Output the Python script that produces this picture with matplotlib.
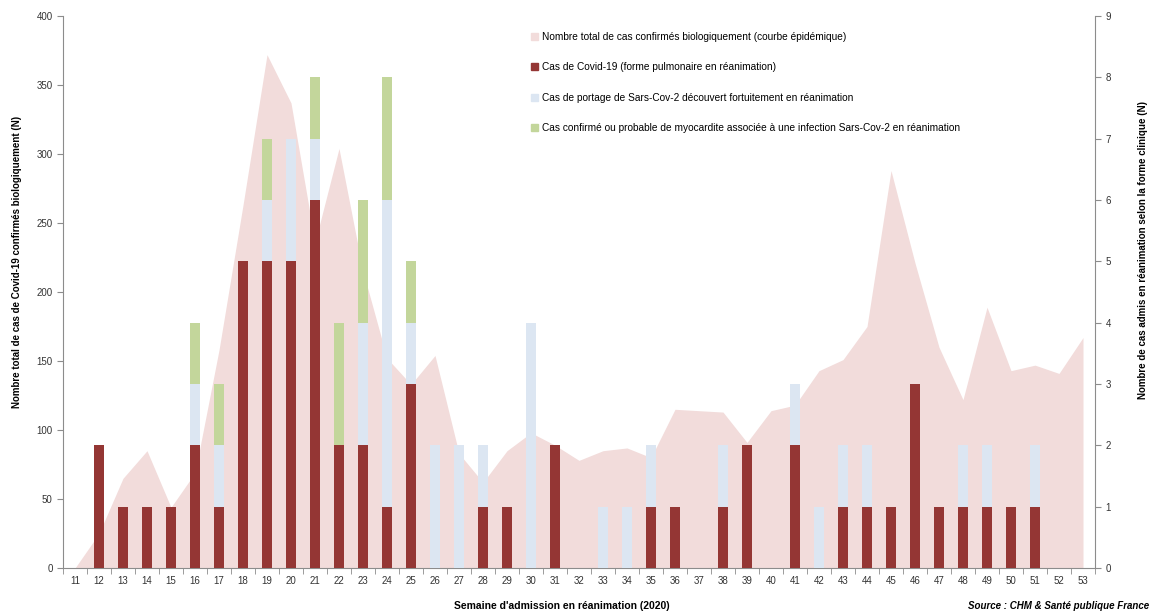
import numpy as np
import matplotlib
matplotlib.use("Agg")
import matplotlib.pyplot as plt
from matplotlib.patches import Patch
from matplotlib.ticker import MultipleLocator

plt.rcParams['font.family'] = ['Liberation Sans', 'DejaVu Sans']

# Data -------------------------------------------------------------------------
weeks = list(range(11, 54))

# total confirmed cases (epidemic curve, left axis)
total_cases = [0, 25, 65, 85, 44, 69, 158, 263, 372, 337,
               236, 304, 215, 152, 133, 154, 83, 62, 85, 98,
               89, 78, 85, 87, 80, 115, 114, 113, 91, 114,
               118, 143, 151, 175, 288, 221, 160, 122, 189, 143,
               147, 141, 167]

# ICU admissions by clinical form (right axis)
covid_pulm = [0, 2, 1, 1, 1, 2, 1, 5, 5, 5,
              6, 2, 2, 1, 3, 0, 0, 1, 1, 0,
              2, 0, 0, 0, 1, 1, 0, 1, 2, 0,
              2, 0, 1, 1, 1, 3, 1, 1, 1, 1,
              1, 0, 0]
portage = [0, 0, 0, 0, 0, 1, 1, 0, 1, 2,
           1, 0, 2, 5, 1, 2, 2, 1, 0, 4,
           0, 0, 1, 1, 1, 0, 0, 1, 0, 0,
           1, 1, 1, 1, 0, 0, 0, 1, 1, 0,
           1, 0, 0]
myocardite = [0, 0, 0, 0, 0, 1, 1, 0, 1, 0,
              1, 2, 2, 2, 1, 0, 0, 0, 0, 0,
              0, 0, 0, 0, 0, 0, 0, 0, 0, 0,
              0, 0, 0, 0, 0, 0, 0, 0, 0, 0,
              0, 0, 0]

labels = ["Nombre total de cas confirmés biologiquement (courbe épidémique)",
          "Cas de Covid-19 (forme pulmonaire en réanimation)",
          "Cas de portage de Sars-Cov-2 découvert fortuitement en réanimation",
          "Cas confirmé ou probable de myocardite associée à une infection Sars-Cov-2 en réanimation"]

c_area = "#F2DCDB"
c_dark = "#943634"
c_light = "#DCE6F2"
c_green = "#C3D69B"
c_axis = "#8C8C8C"

# Figure -----------------------------------------------------------------------
W, H = 1152, 612
fig = plt.figure(figsize=(W / 100, H / 100), dpi=100)
ax = fig.add_axes([63 / W, (H - 568) / H, (1095 - 63) / W, (568 - 16) / H])

x = np.arange(len(weeks))
ax.fill_between(x, total_cases, 0, color=c_area, linewidth=0)
ax.set_xlim(-0.5, len(weeks) - 0.5)
ax.set_ylim(0, 400)
ax.yaxis.set_major_locator(MultipleLocator(50))

ax2 = ax.twinx()
ax2.set_ylim(0, 9)
ax2.yaxis.set_major_locator(MultipleLocator(1))

pulm = np.array(covid_pulm)
port = np.array(portage)
myo = np.array(myocardite)
bw = 0.4
ax2.bar(x, pulm, bw, color=c_dark, linewidth=0)
ax2.bar(x, port, bw, bottom=pulm, color=c_light, linewidth=0)
ax2.bar(x, myo, bw, bottom=pulm + port, color=c_green, linewidth=0)

# axes styling
for a in (ax, ax2):
    a.spines["top"].set_visible(False)
    for s in ("left", "right", "bottom"):
        a.spines[s].set_color(c_axis)
    a.tick_params(axis="y", colors=c_axis, labelcolor="#333333", labelsize=7, length=4, direction="out")
ax2.spines["left"].set_visible(False)
ax2.spines["bottom"].set_visible(False)
ax.spines["right"].set_visible(False)

ax.set_xticks(x)
ax.set_xticklabels([str(w) for w in weeks])
ax.set_xticks(np.arange(-0.5, len(weeks), 1), minor=True)
ax.tick_params(axis="x", which="major", length=0, labelsize=7, labelcolor="#333333", pad=6)
ax.tick_params(axis="x", which="minor", length=4, color=c_axis, direction="out")

# labels
fig.text(17 / W, 1 - 262 / H, "Nombre total de cas de Covid-19 confirmés biologiquement (N)",
         rotation=90, ha="center", va="center", fontsize=7, fontweight="bold")
fig.text(1143 / W, 1 - 250 / H, "Nombre de cas admis en réanimation selon la forme clinique (N)",
         rotation=90, ha="center", va="center", fontsize=7, fontweight="bold")
fig.text(562 / W, 1 - 606 / H, "Semaine d'admission en réanimation (2020)",
         ha="center", va="center", fontsize=7.5, fontweight="bold")
fig.text(1149 / W, 1 - 606 / H, "Source : CHM & Santé publique France",
         ha="right", va="center", fontsize=7, fontweight="bold", style="italic")

handles = [Patch(color=c_area), Patch(color=c_dark), Patch(color=c_light), Patch(color=c_green)]
ax2.legend(handles, labels, loc="upper left", bbox_to_anchor=(522 / W, 1 - 23 / H),
           bbox_transform=fig.transFigure, frameon=False, fontsize=7.3,
           handlelength=0.7, handleheight=0.7, handletextpad=0.4, labelspacing=2.0)

fig.savefig("out.png", dpi=100)
